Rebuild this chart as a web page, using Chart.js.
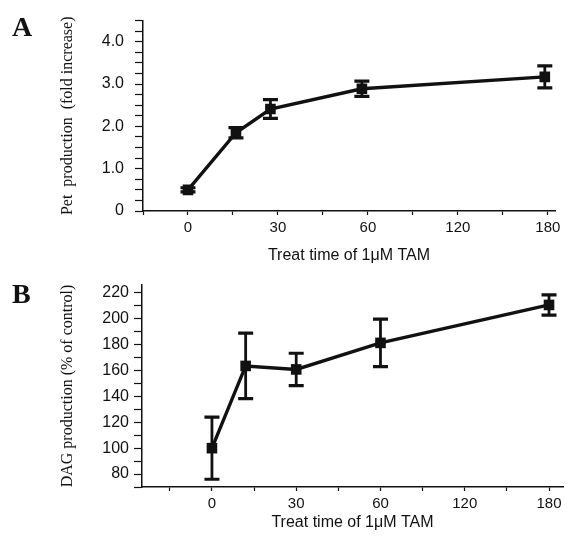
<!DOCTYPE html>
<html>
<head>
<meta charset="utf-8">
<script src="https://cdn.jsdelivr.net/npm/chart.js@4/dist/chart.umd.min.js"></script>
<style>
  html, body { margin: 0; padding: 0; background: #fff; }
  #wrap { position: relative; width: 571px; height: 540px; background: #fff; overflow: hidden; }
  canvas { position: absolute; left: 0; }
  .panel { position: absolute; left: 12px; font: bold 28px "Liberation Serif", "Times New Roman", serif; line-height: 28px; color: #111; }
</style>
</head>
<body>
<div id="wrap">
  <canvas id="cA" width="571" height="270" style="top:0"></canvas>
  <canvas id="cB" width="571" height="270" style="top:270px"></canvas>
  <div class="panel" style="top:13px">A</div>
  <div class="panel" style="top:280px">B</div>
</div>
<script>
// ---- data ----
const xTickLabels = ['0', '30', '60', '120', '180'];
const xTickTimes  = [0, 30, 60, 120, 180];

const timesA  = [0, 16, 27.5, 58, 178];
const valuesA = [0.5, 1.85, 2.41, 2.89, 3.17];
const errorsA = [0.05, 0.12, 0.22, 0.18, 0.26];
const yLabelsA = ['0', '1.0', '2.0', '3.0', '4.0'];

const timesB  = [0, 12, 30, 60, 180];
const valuesB = [100, 163.5, 160.8, 181.3, 210.6];
const errorsB = [24, 25.3, 12.5, 18.4, 7.8];
const yLabelsB = ['80', '100', '120', '140', '160', '180', '200', '220'];

// time axis is piecewise: 0-60 by 30 per division, 60-180 by 60 per division
function timeToAxis(t) { return t <= 60 ? t / 30 : 2 + (t - 60) / 60; }

const INK = '#111';

const errorBars = {
  id: 'errorBars',
  afterDatasetsDraw(chart) {
    const ctx = chart.ctx;
    const xs = chart.scales.x, ys = chart.scales.y;
    chart.data.datasets.forEach(ds => {
      const errs = ds.errors || [];
      ds.data.forEach((p, i) => {
        const e = errs[i];
        if (!e) return;
        const px = xs.getPixelForValue(p.x);
        const top = ys.getPixelForValue(p.y + e);
        const bot = ys.getPixelForValue(p.y - e);
        ctx.save();
        ctx.strokeStyle = INK;
        ctx.lineWidth = 2.8;
        ctx.beginPath();
        ctx.moveTo(px, top); ctx.lineTo(px, bot);
        ctx.stroke();
        ctx.lineWidth = 3.2;
        ctx.beginPath();
        ctx.moveTo(px - 7.5, top); ctx.lineTo(px + 7.5, top);
        ctx.moveTo(px - 7.5, bot); ctx.lineTo(px + 7.5, bot);
        ctx.stroke();
        ctx.restore();
      });
    });
  }
};

function makeChart(id, cfg) {
  const pts = cfg.times.map((t, i) => ({ x: timeToAxis(t), y: cfg.values[i] }));
  return new Chart(document.getElementById(id), {
    type: 'line',
    data: {
      datasets: [{
        data: pts,
        errors: cfg.errors,
        borderColor: INK,
        backgroundColor: INK,
        borderWidth: 3.4,
        pointStyle: 'rect',
        pointRadius: 7.5,
        pointBorderWidth: 0,
        tension: 0
      }]
    },
    options: {
      responsive: false,
      animation: false,
      devicePixelRatio: 1,
      layout: { padding: { left: 0, top: 15, right: cfg.padRight, bottom: 0 } },
      plugins: { legend: { display: false }, tooltip: { enabled: false } },
      scales: {
        x: {
          type: 'linear',
          min: cfg.xMin, max: cfg.xMax,
          afterBuildTicks: s => {
            const t = [];
            for (let v = -0.5; v <= 4.001; v += 0.5) t.push({ value: v });
            s.ticks = t;
          },
          afterFit: s => { s.height = cfg.xHeight; },
          ticks: {
            autoSkip: false, maxRotation: 0, padding: 4, color: INK,
            font: { family: '"Liberation Sans", Arial, sans-serif', size: 15 },
            callback: v => {
              const idx = xTickTimes.findIndex(t => Math.abs(timeToAxis(t) - v) < 1e-6);
              return idx >= 0 ? xTickLabels[idx] : '';
            }
          },
          grid: { drawOnChartArea: false, drawTicks: true, tickLength: 4, color: INK, tickWidth: 1.2 },
          border: { display: true, color: INK, width: 1.5 },
          title: {
            display: true, text: 'Treat time of 1\u03BCM TAM', color: INK,
            font: { family: '"Liberation Sans", Arial, sans-serif', size: 16 },
            padding: { top: 0, bottom: cfg.xTitlePad }
          }
        },
        y: {
          type: 'linear',
          min: cfg.yMin, max: cfg.yMax,
          afterBuildTicks: s => {
            const t = [];
            for (let v = cfg.yMin; v <= cfg.yMax + 1e-6; v += cfg.yMinor) t.push({ value: +v.toFixed(4) });
            s.ticks = t;
          },
          afterFit: s => { s.width = cfg.yWidth; },
          ticks: {
            autoSkip: false, padding: cfg.yTickPad, color: INK,
            font: { family: '"Liberation Sans", Arial, sans-serif', size: 16 },
            callback: cfg.yLabel
          },
          grid: { drawOnChartArea: false, drawTicks: true, tickLength: 8, color: INK, tickWidth: 1.2 },
          border: { display: true, color: INK, width: 1.5 },
          title: {
            display: true, text: cfg.yTitle, color: INK,
            font: { family: '"Liberation Serif", "Times New Roman", serif', size: 16 },
            padding: { top: 58, bottom: 0 }
          }
        }
      }
    },
    plugins: [errorBars]
  });
}

makeChart('cA', {
  times: timesA, values: valuesA, errors: errorsA,
  xMin: -0.5, xMax: 4.08, padRight: 16, xHeight: 59, xTitlePad: 5,
  yMin: 0, yMax: 4.5, yMinor: 0.25, yWidth: 143, yTickPad: 11,
  yTitle: 'Pet  production  (fold increase)',
  yLabel: v => Number.isInteger(v) && v <= 4 ? yLabelsA[v] : ''
});

makeChart('cB', {
  times: timesB, values: valuesB, errors: errorsB,
  xMin: -0.83, xMax: 4.166, padRight: 8, xHeight: 53, xTitlePad: 8,
  yMin: 70, yMax: 226, yMinor: 10, yWidth: 142, yTickPad: 5,
  yTitle: 'DAG production (% of control)',
  yLabel: v => { const i = yLabelsB.indexOf(String(v)); return i >= 0 ? yLabelsB[i] : ''; }
});
</script>
</body>
</html>
